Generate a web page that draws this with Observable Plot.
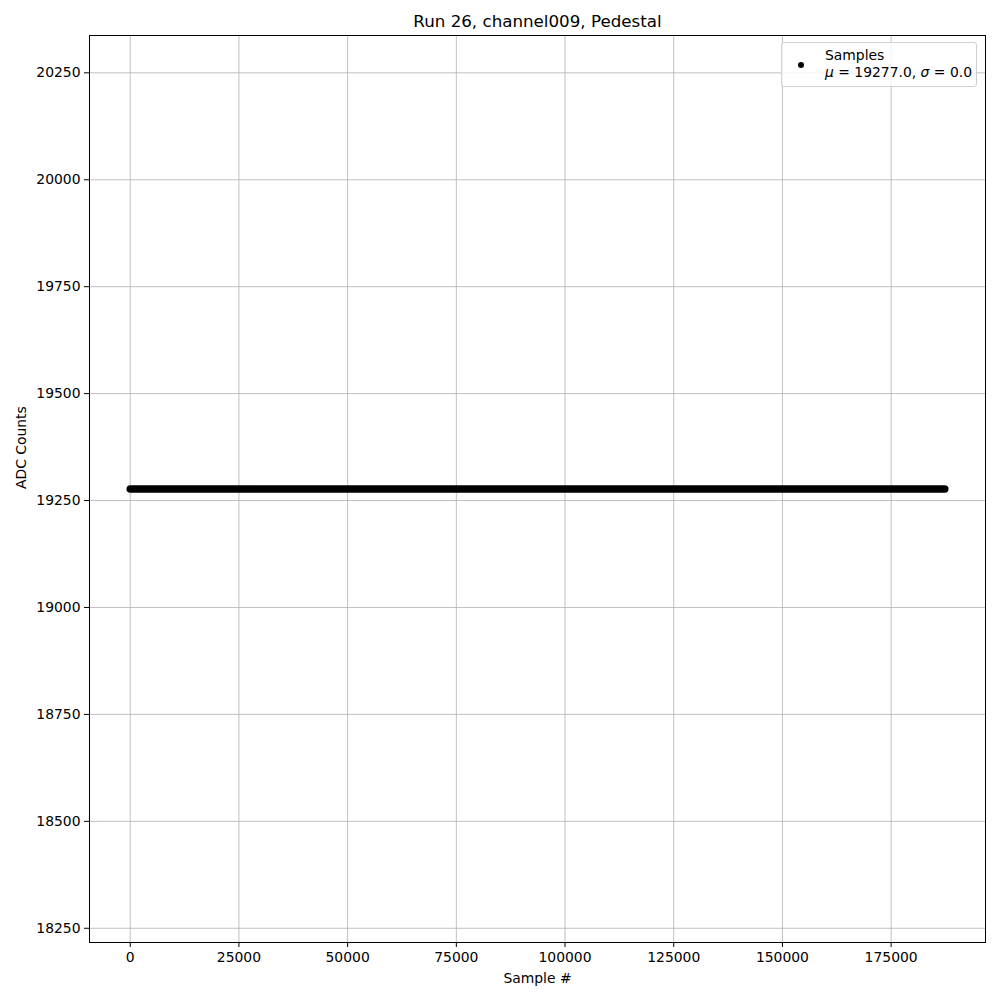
<!DOCTYPE html>
<html>
<head>
<meta charset="utf-8">
<script src="https://cdn.jsdelivr.net/npm/d3@7"></script>
<script src="https://cdn.jsdelivr.net/npm/@observablehq/plot@0.6"></script>
<style>
  html, body { margin: 0; padding: 0; background: #fff; }
  #wrap { position: relative; width: 1000px; height: 1000px; font-family: "DejaVu Sans", sans-serif; }
  #legend {
    position: absolute; left: 781px; top: 42px; width: 196px; height: 45px;
    border: 1px solid #d0d0d0; border-radius: 3px; background: rgba(255,255,255,0.8);
    font-size: 13.9px; color: #000; box-sizing: border-box;
  }
  #legend .dot { position: absolute; left: 16px; top: 19px; width: 6px; height: 6px; border-radius: 50%; background: #000; }
  #legend .l1 { position: absolute; left: 43px; top: 4px; white-space: nowrap; line-height: 16px; }
  #legend .l2 { position: absolute; left: 43px; top: 21px; white-space: nowrap; line-height: 16px; }
</style>
</head>
<body>
<div id="wrap">
  <div id="chart"></div>
  <div id="legend">
    <div class="dot"></div>
    <div class="l1">Samples</div>
    <div class="l2"><i>μ</i> = 19277.0, <i>σ</i> = 0.0</div>
  </div>
</div>
<script>
// Data: constant pedestal samples, first and last sample index
const sampleIndex = [0, 187336];
const adcCounts = [19277, 19277];
const xTicks = [0, 25000, 50000, 75000, 100000, 125000, 150000, 175000];
const yTicks = [18250, 18500, 18750, 19000, 19250, 19500, 19750, 20000, 20250];
const titleText = "Run 26, channel009, Pedestal";
const xLabel = "Sample #";
const yLabel = "ADC Counts";

const samples = sampleIndex.map((s, i) => ({ x: s, y: adcCounts[i] }));

const chart = Plot.plot({
  width: 1000,
  height: 1000,
  marginLeft: 89,
  marginRight: 15,
  marginTop: 35,
  marginBottom: 58,
  style: { fontFamily: "DejaVu Sans, sans-serif", fontSize: "13.9px", color: "#000", background: "#fff" },
  x: { domain: [-9367, 196703] },
  y: { domain: [18216.75, 20337.25] },
  marks: [
    Plot.gridX(xTicks, { stroke: "#b0b0b0", strokeOpacity: 1, strokeWidth: 0.8 }),
    Plot.gridY(yTicks, { stroke: "#b0b0b0", strokeOpacity: 1, strokeWidth: 0.8 }),
    Plot.line(samples, { x: "x", y: "y", stroke: "#000", strokeWidth: 7.5, strokeLinecap: "round" }),
    Plot.frame({ stroke: "#000", strokeWidth: 1 }),
    Plot.axisX(xTicks, { tickSize: 5, tickPadding: 5, label: null, fontSize: 13.9, tickFormat: d => String(d) }),
    Plot.axisY(yTicks, { tickSize: 5, tickPadding: 4, label: null, fontSize: 13.9, tickFormat: d => String(d) }),
    Plot.text([titleText], { frameAnchor: "top", dy: -20, fontSize: 16.7, fill: "#000" }),
    Plot.text([xLabel], { frameAnchor: "bottom", dy: 40, fontSize: 13.9, fill: "#000" }),
    Plot.text([yLabel], { frameAnchor: "left", dx: -68, rotate: -90, fontSize: 13.9, fill: "#000" })
  ]
});
document.getElementById("chart").appendChild(chart);
</script>
</body>
</html>
